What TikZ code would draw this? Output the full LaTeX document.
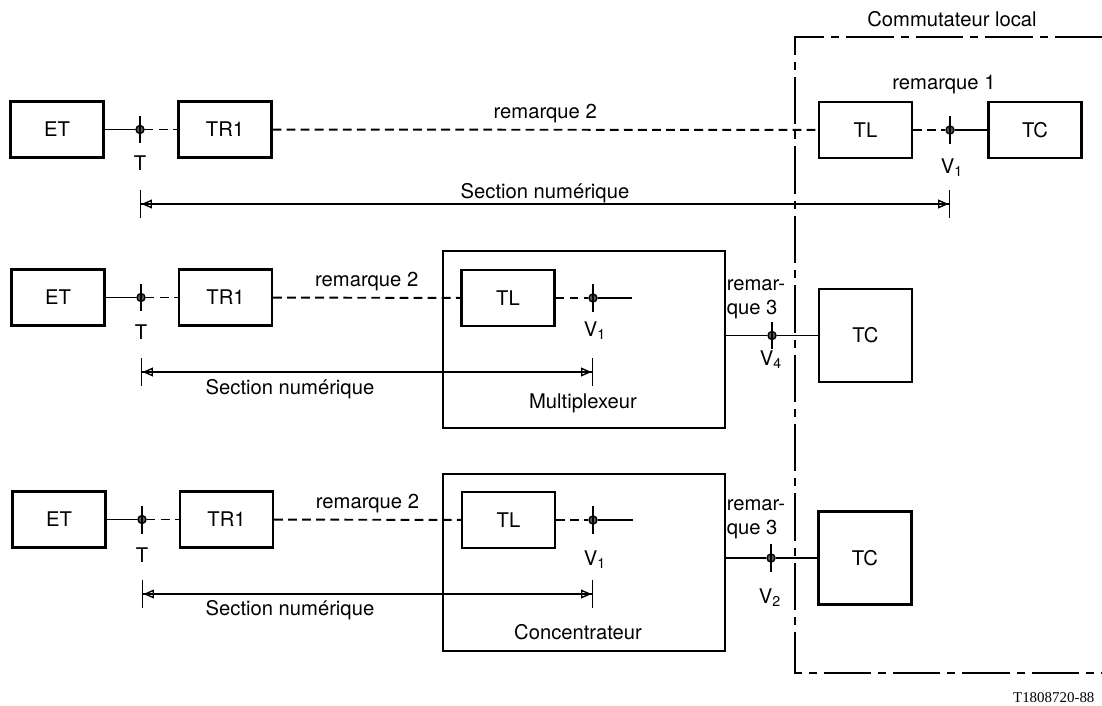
\documentclass[tikz,border=0pt]{standalone}
\usepackage{fontspec}
\setmainfont{TeX Gyre Heros}
\newfontfamily\reffont{Liberation Serif}
\usetikzlibrary{arrows.meta}

\begin{document}
\begin{tikzpicture}[x=0.02cm,y=-0.02cm,font=\fontsize{11.5}{13.5}\selectfont,line width=0.8pt]
\tikzstyle{bloc}=[draw,line width=1.2pt,minimum width=1.86cm,minimum height=1.12cm,inner sep=0pt]
\tikzstyle{grand}=[draw,line width=1.2pt,minimum width=5.64cm,minimum height=3.54cm,inner sep=0pt]
\tikzstyle{jonc}=[circle,draw,fill=gray!70!black,minimum size=0.16cm,inner sep=0pt]
\tikzstyle{tiret}=[dash pattern=on 5pt off 3pt,line width=1.1pt]
\tikzstyle{mixte}=[dash pattern=on 27pt off 4pt on 4.5pt off 4pt,line width=0.7pt]
\tikzstyle{cote}=[{Bar[width=16pt]Triangle[open,length=6pt,width=5pt]}-{Triangle[open,length=6pt,width=5pt]Bar[width=16pt]}]
\useasboundingbox (0,0) rectangle (1102,706);

% commutateur local
\coordinate (ch) at (1102,37);
\coordinate (cb) at (1102,673);
\draw[mixte] (ch) -- (795,37) -- (795,673) -- (cb);
\node (com) at (952,19) {Commutateur local};

% ligne 1
\node[bloc] (et1) at (57,129.5) {ET};
\node[bloc] (tr1) at (225,129.5) {TR1};
\node[bloc] (tl1) at (865.5,130) {TL};
\node[bloc] (tc1) at (1035,130) {TC};
\node[jonc] (t1) at (140,129.5) {};
\node[jonc] (v1) at (950,130) {};
\draw (et1) -- (t1);
\draw[tiret] (t1) -- (tr1);
\draw[tiret] (tr1) -- node[above] (rq21) {remarque 2} (tl1);
\draw[tiret] (tl1) -- (v1);
\draw (v1) -- (tc1);
\node (rq1) at (944,85) {remarque 1};
\node (lt1) at (140,163) {T};
\node (lv1) at (952,168) {V\textsubscript{1}};
\coordinate (d1a) at (140,204);
\coordinate (d1b) at (950,204);
\draw[cote] (d1a) -- node[above=-3pt] (sn1) {Section numérique} (d1b);

% ligne 2
\node[grand] (mux) at (584,339.5) {};
\node (lmux) at (583,403) {Multiplexeur};
\node[bloc] (et2) at (58,297.5) {ET};
\node[bloc] (tr2) at (225.5,297.5) {TR1};
\node[bloc] (tl2) at (508,298) {TL};
\node[bloc,minimum height=1.86cm] (tc2) at (865.5,335.5) {TC};
\node[jonc] (t2) at (141,297.5) {};
\node[jonc] (v12) at (593,298) {};
\node[jonc] (v4) at (772,335.5) {};
\coordinate (f2) at (632,298);
\draw (et2) -- (t2);
\draw[tiret] (t2) -- (tr2);
\draw[tiret] (tr2) -- node[above] (rq22) {remarque 2} (tl2);
\draw[tiret] (tl2) -- (v12);
\draw (v12) -- (f2);
\draw (v4 -| mux.east) -- (v4) -- (tc2);
\node[align=left] (rq32) at (756,299) {remar-\\que 3};
\node (lt2) at (141,332) {T};
\node (lv12) at (595,331) {V\textsubscript{1}};
\node (lv4) at (771,360) {V\textsubscript{4}};
\coordinate (d2a) at (141,372);
\coordinate (d2b) at (593,372);
\draw[cote] (d2a) -- (d2b);
\node (sn2) at (290,389) {Section numérique};

% ligne 3
\node[grand] (conc) at (584,562.5) {};
\node (lconc) at (578,632) {Concentrateur};
\node[bloc] (et3) at (59,519.5) {ET};
\node[bloc] (tr3) at (226.5,519.5) {TR1};
\node[bloc] (tl3) at (508.5,520) {TL};
\node[bloc,minimum height=1.86cm] (tc3) at (865,558) {TC};
\node[jonc] (t3) at (142,519.5) {};
\node[jonc] (v13) at (593,520) {};
\node[jonc] (v2) at (771,558) {};
\coordinate (f3) at (633,520);
\draw (et3) -- (t3);
\draw[tiret] (t3) -- (tr3);
\draw[tiret] (tr3) -- node[above] (rq23) {remarque 2} (tl3);
\draw[tiret] (tl3) -- (v13);
\draw (v13) -- (f3);
\draw (v2 -| conc.east) -- (v2) -- (tc3);
\node[align=left] (rq33) at (756,519) {remar-\\que 3};
\node (lt3) at (142,555) {T};
\node (lv13) at (595,560) {V\textsubscript{1}};
\node (lv2) at (770,598) {V\textsubscript{2}};
\coordinate (d3a) at (142,594);
\coordinate (d3b) at (593,594);
\draw[cote] (d3a) -- (d3b);
\node (sn3) at (290,610) {Section numérique};

% traits des points de reference
\foreach \j in {t1,v1,t2,v12,v4,t3,v13,v2}
  \draw[line width=1pt] ([yshift=0.28cm]\j.center) -- ([yshift=-0.28cm]\j.center);

\node[anchor=east,font=\reffont\fontsize{8.5}{10}\selectfont] (ref) at (1101,698) {T1808720-88};
\end{tikzpicture}
\end{document}
